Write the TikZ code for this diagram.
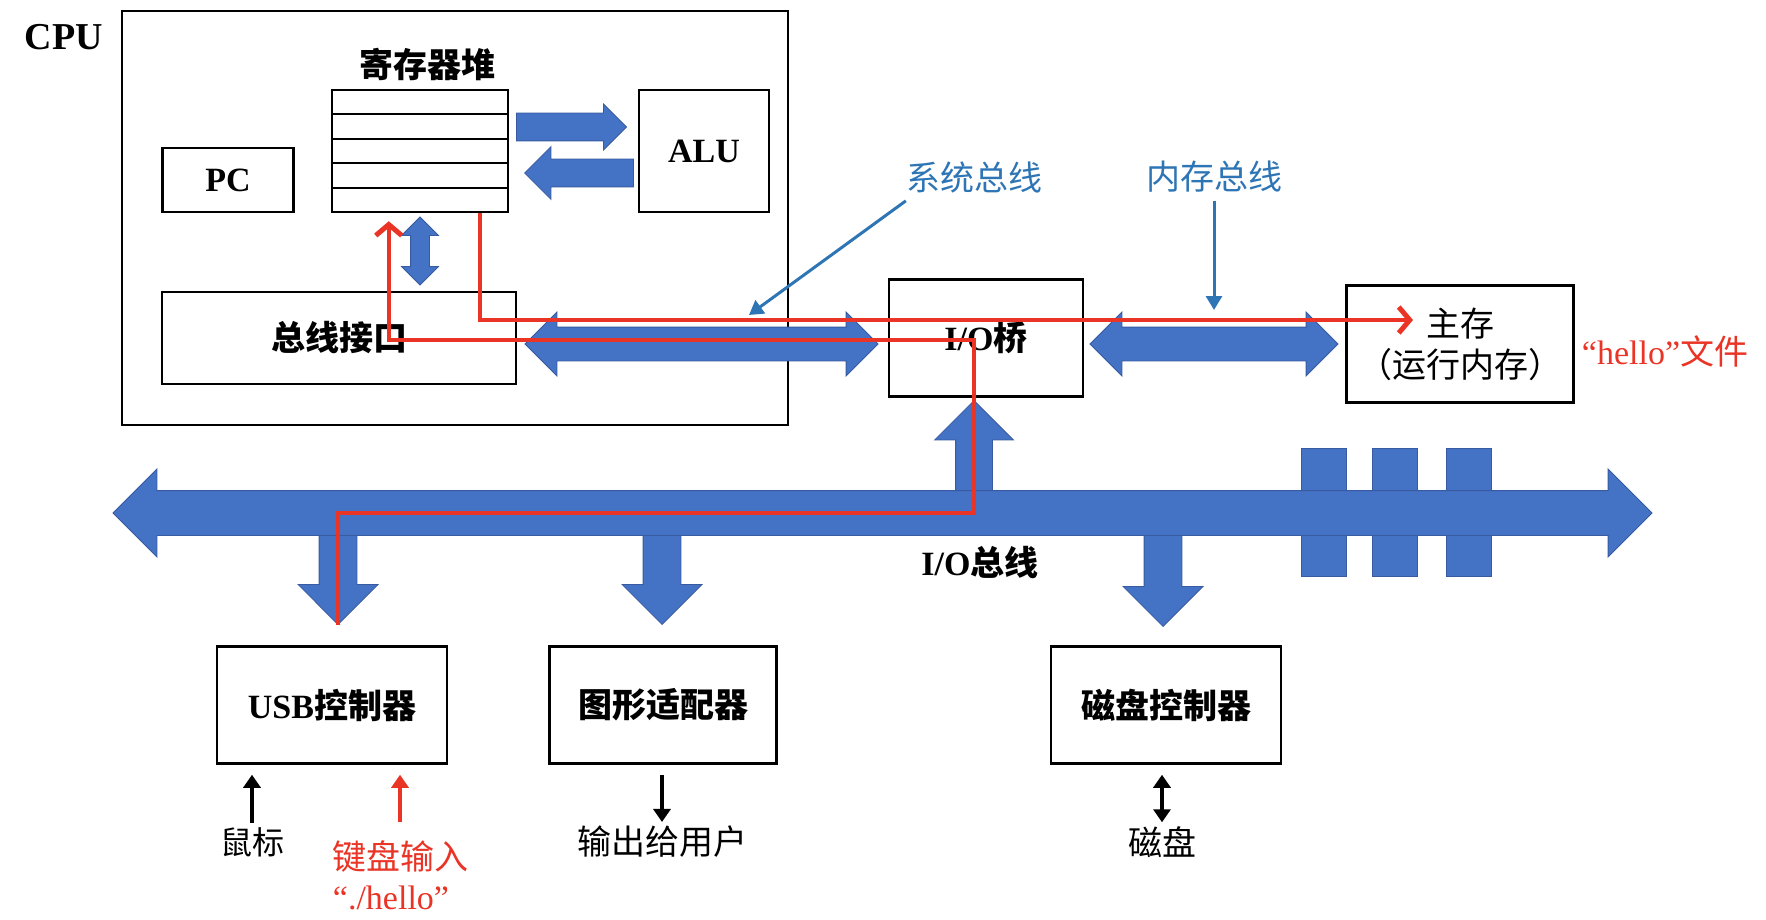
\documentclass[tikz,border=0pt]{standalone}
\usepackage{fontspec}
\setmainfont{Liberation Serif}
\newfontfamily\cjk{Noto Sans CJK SC}
\usetikzlibrary{arrows.meta, positioning, calc, shapes.arrows}
\definecolor{busblue}{RGB}{68,114,196}
\definecolor{busedge}{RGB}{55,90,160}
\definecolor{lblblue}{RGB}{46,117,182}
\definecolor{pathred}{RGB}{233,52,38}

\begin{document}
\begin{tikzpicture}[x=1pt, y=-1pt,
    box/.style={draw, line width=2.5pt, inner sep=0pt, align=center, font=\fontsize{34}{41}\selectfont},
    lbl/.style={inner sep=0pt, align=center, font=\fontsize{34}{41}\selectfont},
    sarrow/.style={single arrow, fill=busblue, draw=busedge, line width=0.8pt, inner xsep=0pt, anchor=tip},
    darrow/.style={double arrow, fill=busblue, draw=busedge, line width=0.8pt, inner xsep=0pt},
    ptr/.style={draw=lblblue, line width=3pt, -{Triangle[length=14pt,width=16pt]}},
    sarr/.style={line width=4pt, -{Triangle[length=13pt,width=17pt]}},
    redp/.style={draw=pathred, line width=4.5pt, -{Straight Barb[length=11pt,width=26pt,line width=5pt]}}]
  \useasboundingbox (0,0) rectangle (1766,920);

  % CPU
  \node[box, minimum width=666, minimum height=414] (cpu) at (455,218) {};
  \node[lbl, font=\fontsize{38}{44}\selectfont\bfseries] (cpulbl) at (64,37) {CPU};
  \node[box, minimum width=176, minimum height=122] (reg) at (420,151) {};
  \foreach \i in {1,...,4}
    \draw[line width=2pt] ($(reg.north west)!\i/5!(reg.south west)$) -- ($(reg.north east)!\i/5!(reg.south east)$);
  \node[lbl, font=\fontsize{34}{41}\selectfont\cjk\bfseries] (reglbl) at (427,65) {寄存器堆};
  \node[box, minimum width=131, minimum height=64] (pc) at (228,180) {\bfseries PC};
  \node[box, minimum width=130, minimum height=122] (alu) at (704,151) {\bfseries ALU};
  \node[box, minimum width=354, minimum height=92] (busif) at (339,338) {\cjk\bfseries 总线接口};

  % bridge, memory
  \node[box, minimum width=194, minimum height=117] (bridge) at (986,338) {{\bfseries I/O}{\cjk\bfseries 桥}};
  \node[box, minimum width=227, minimum height=117] (mem) at (1460,344) {\cjk 主存\\\cjk （运行内存）};
  \node[lbl, text=pathred] (hellofile) at (1665,351) {“hello”{\cjk 文件}};

  % io devices
  \node[box, minimum width=230, minimum height=117] (usb) at (332,705) {{\bfseries USB}{\cjk\bfseries 控制器}};
  \node[box, minimum width=227, minimum height=117] (gfx) at (663,705) {\cjk\bfseries 图形适配器};
  \node[box, minimum width=230, minimum height=117] (diskc) at (1166,705) {\cjk\bfseries 磁盘控制器};

  % block arrows
  \node[sarrow, minimum height=110, inner ysep=13.5, single arrow head extend=9] (toalu) at (627,127) {};
  \node[sarrow, rotate=180, minimum height=109, inner ysep=13.5, single arrow head extend=12.5] (fromalu) at (524,173) {};
  \node[darrow, rotate=90, minimum height=68, inner ysep=9, double arrow head extend=9] (regbus) at (420,251) {};
  \node[darrow, minimum height=353, inner ysep=16.5, double arrow head extend=15] (sysbus) at (701.5,344) {};
  \node[darrow, minimum height=248, inner ysep=16.5, double arrow head extend=15] (membus) at (1214,344) {};
  \node[sarrow, rotate=90, minimum height=113, inner ysep=18, single arrow head extend=21] (brup) at (974,400) {};
  \node[sarrow, rotate=-90, minimum height=112, inner ysep=18.5, single arrow head extend=21] (usbdown) at (338,625) {};
  \node[sarrow, rotate=-90, minimum height=112, inner ysep=18.5, single arrow head extend=21] (gfxdown) at (662,625) {};
  \node[sarrow, rotate=-90, minimum height=114, inner ysep=18.5, single arrow head extend=21] (diskdown) at (1163,627) {};
  \foreach \x in {1301,1372,1446}
    \draw[fill=busblue, draw=busedge, line width=0.8pt] (\x,448) rectangle ++(45,128);
  \node[darrow, minimum height=1539, inner ysep=22, double arrow head extend=21.5] (iobus) at (882.5,513) {};
  \node[lbl, font=\fontsize{34}{41}\selectfont\bfseries] (iobuslbl) at (980,563) {I/O{\cjk 总线}};

  % bus labels
  \node[lbl, text=lblblue, font=\fontsize{34}{41}\selectfont\cjk] (sysbuslbl) at (974,177) {系统总线};
  \node[lbl, text=lblblue, font=\fontsize{34}{41}\selectfont\cjk] (membuslbl) at (1214,177) {内存总线};
  \coordinate (sysptr) at (749,315);
  \coordinate (memptr) at (1214,310);
  \draw[ptr] ([yshift=-8pt]sysbuslbl.south west) -- (sysptr);
  \draw[ptr] ([yshift=-8pt]membuslbl.south) -- (memptr);

  % hello path
  \coordinate (regout) at ($(reg.south west)!0.835!(reg.south east)$);
  \coordinate (regin) at ($(reg.south west)!0.325!(reg.south east)$);
  \coordinate (hit) at (1413,320);
  \coordinate (kbturn) at (974,340);
  \draw[redp] (regout) |- (hit);
  \draw[redp, shorten >=8pt] (usbdown.tip) |- (kbturn |- iobus) -- (kbturn) -| (regin);

  % outside devices
  \node[lbl, font=\fontsize{32}{40}\selectfont\cjk] (mouse) at (252,842) {鼠标};
  \node[lbl, text=pathred, font=\fontsize{34}{41}\selectfont\cjk] (kbd) at (400,856) {键盘输入};
  \node[lbl, text=pathred] (kbdcmd) at (391,898) {“./hello”};
  \node[lbl, font=\fontsize{34}{41}\selectfont\cjk] (out) at (662,842) {输出给用户};
  \node[lbl, font=\fontsize{34}{41}\selectfont\cjk] (disk) at (1162,842) {磁盘};
  \draw[sarr] ([yshift=4pt]mouse.north) -- ([yshift=-10pt]usb.south -| mouse);
  \draw[sarr, pathred] ([yshift=18pt]kbd.north) -- ([yshift=-10pt]usb.south -| kbd);
  \draw[sarr] ([yshift=-10pt]gfx.south -| out) -- ([yshift=4pt]out.north);
  \draw[sarr, {Triangle[length=13pt,width=17pt]}-{Triangle[length=13pt,width=17pt]}] ([yshift=-10pt]diskc.south -| disk) -- ([yshift=4pt]disk.north);
\end{tikzpicture}
\end{document}
